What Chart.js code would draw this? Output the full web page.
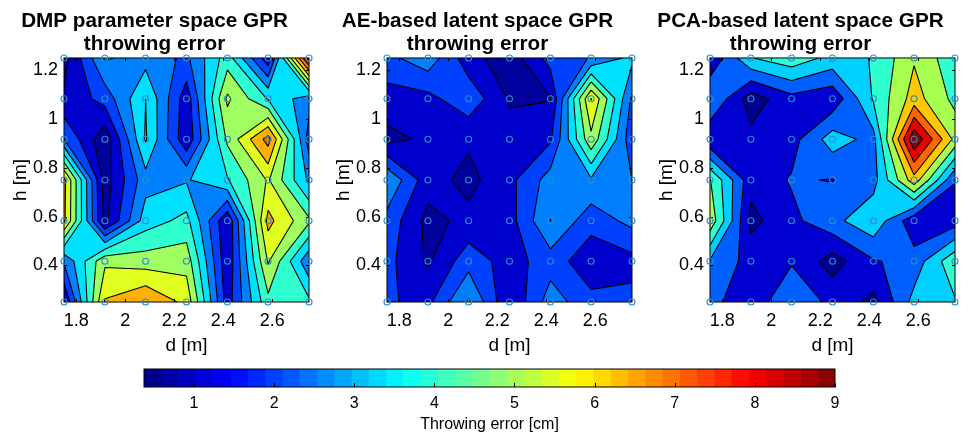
<!DOCTYPE html>
<html><head><meta charset="utf-8">
<script src="https://cdn.jsdelivr.net/npm/chart.js@4"></script>
<style>html,body{margin:0;padding:0;background:#fff;width:969px;height:435px;overflow:hidden}
canvas{position:absolute}</style></head><body>
<canvas id="c1" style="left:0;top:0"></canvas>
<canvas id="c2" style="left:323px;top:0"></canvas>
<canvas id="c3" style="left:646px;top:0"></canvas>
<canvas id="c4" style="left:0;top:365px"></canvas>
<script>
const dValues=[1.75,1.917,2.083,2.25,2.417,2.583,2.75];
const hValues=[1.25,1.083,0.917,0.75,0.583,0.417,0.25];
const xTicks=[1.8,2,2.2,2.4,2.6];
const yTicks=[0.4,0.6,0.8,1,1.2];
const barTicks=[1,2,3,4,5,6,7,8,9];
const titleA=["DMP parameter space GPR","throwing error"];
const titleB=["AE-based latent space GPR","throwing error"];
const titleC=["PCA-based latent space GPR","throwing error"];
const errorsA=[
[.75,3.38,3.0,2.4,4.43,1.3,8.93],
[1.16,2.1,4.05,1.35,5.7,3.98,2.85],
[2.55,.49,4.13,1.2,4.95,7.35,2.18],
[6.53,.68,3.0,3.23,3.98,5.63,3.15],
[6.45,.83,3.68,4.28,1.13,6.53,4.95],
[2.63,5.4,5.18,5.25,1.2,5.63,2.7],
[1.05,6.38,7.05,6.08,1.43,4.58,4.2]];
const errorsB=[
[2.33,3.03,1.35,.6,2.1,2.59,3.5],
[1.46,1.56,2.32,.98,1.01,6.34,2.4],
[.83,1.19,1.16,1.28,1.69,5.36,2.03],
[3.23,1.35,.83,1.58,2.88,3.19,2.55],
[2.29,.83,1.25,1.49,3.32,2.1,2.78],
[2.03,.94,2.25,1.45,2.21,1.28,1.54],
[1.88,1.6,3.41,1.07,2.93,2.03,2.03]];
const errorsC=[
[1.27,3.78,4.41,3.52,3.86,5.49,4.08],
[2.98,.72,1.75,1.4,3.91,5.97,4.44],
[1.27,1.44,1.71,3.38,2.63,8.98,5.32],
[4.75,1.47,2.14,2.02,2.59,6.11,2.1],
[5.32,.92,1.83,2.68,3.59,1.44,1.62],
[2.85,1.71,1.97,.78,1.97,2.41,4.52],
[2.32,1.49,2.81,1.8,.92,3.25,3.73]];
const levelsAB=[1.05,1.8,2.55,3.3,4.05,4.8,5.55,6.3,7.05,7.8,8.55];
const levelsC=[1.18,2.06,2.94,3.82,4.7,5.58,6.46,7.34,8.22];
const colorsAB=['#00009c','#0000cc','#0040ff','#0080ff','#00e0ff','#30ffcf','#a0ff60','#e0ff20','#ffb000','#ff7000','#ff2000','#b00000'];
const colorsC=['#00008f','#0000d0','#0060ff','#00d0ff','#30ffd0','#a8ff50','#ffc800','#ff6600','#e80000','#8b0000'];
const barMin=0.376, barMax=9, barSteps=40;
const FONT='"Liberation Sans",Arial,sans-serif';

function cellPolys(q,L){
  const above=q.map(p=>p[2]>=L);
  const n=above.filter(Boolean).length;
  if(n===0) return {polys:[],segs:[]};
  if(n===4) return {polys:[q.map(p=>[p[0],p[1]])],segs:[]};
  const cross=i=>{const a=q[i],b=q[(i+1)%4];const t=(L-a[2])/(b[2]-a[2]);return [a[0]+t*(b[0]-a[0]),a[1]+t*(b[1]-a[1])];};
  const poly=[],cr=[];
  for(let i=0;i<4;i++){
    if(above[i])poly.push([q[i][0],q[i][1]]);
    if(above[i]!==above[(i+1)%4]){const c=cross(i);poly.push(c);cr[i]=c;}
  }
  if(n===2&&above[0]===above[2]){
    const mean=(q[0][2]+q[1][2]+q[2][2]+q[3][2])/4;
    const pt=i=>[q[i][0],q[i][1]];
    if(mean>=L){
      const segs=above[0]?[[cr[0],cr[1]],[cr[2],cr[3]]]:[[cr[3],cr[0]],[cr[1],cr[2]]];
      return {polys:[poly],segs};
    }
    if(above[0]) return {polys:[[pt(0),cr[0],cr[3]],[pt(2),cr[2],cr[1]]],segs:[[cr[0],cr[3]],[cr[1],cr[2]]]};
    return {polys:[[pt(1),cr[1],cr[0]],[pt(3),cr[3],cr[2]]],segs:[[cr[0],cr[1]],[cr[2],cr[3]]]};
  }
  const cs=cr.filter(Boolean);
  return {polys:[poly],segs:[[cs[0],cs[1]]]};
}
const contourPlugin={id:'contour',
 beforeDatasetsDraw(chart,args,o){
  const {ctx,chartArea:a,scales:{x,y}}=chart;
  ctx.save();
  ctx.beginPath();ctx.rect(a.left,a.top,a.right-a.left,a.bottom-a.top);ctx.clip();
  ctx.fillStyle=o.colors[0];ctx.fillRect(a.left,a.top,a.right-a.left,a.bottom-a.top);
  const allSegs=[];
  o.levels.forEach((L,k)=>{
    ctx.beginPath();
    for(let r=0;r<hValues.length-1;r++)for(let c=0;c<dValues.length-1;c++){
      const P=(rr,cc)=>[x.getPixelForValue(dValues[cc]),y.getPixelForValue(hValues[rr]),o.values[rr][cc]];
      const res=cellPolys([P(r,c),P(r,c+1),P(r+1,c+1),P(r+1,c)],L);
      res.polys.forEach(pl=>{pl.forEach((p,i)=>i?ctx.lineTo(p[0],p[1]):ctx.moveTo(p[0],p[1]));ctx.closePath();});
      res.segs.forEach(s=>allSegs.push(s));
    }
    ctx.fillStyle=o.colors[k+1];ctx.fill();
  });
  ctx.beginPath();
  allSegs.forEach(s=>{ctx.moveTo(s[0][0],s[0][1]);ctx.lineTo(s[1][0],s[1][1]);});
  ctx.strokeStyle='#000';ctx.lineWidth=1.1;ctx.stroke();
  ctx.restore();
  drawFrame(chart);
 }};
function drawFrame(chart){
  const {ctx,chartArea:a,scales:{x,y}}=chart;
  ctx.save();ctx.strokeStyle='#000';ctx.lineWidth=1;
  ctx.beginPath();
  const T=3;
  xTicks.forEach(v=>{const p=Math.round(x.getPixelForValue(v))+.5;
    ctx.moveTo(p,a.bottom);ctx.lineTo(p,a.bottom-T);ctx.moveTo(p,a.top);ctx.lineTo(p,a.top+T);});
  yTicks.forEach(v=>{const p=Math.round(y.getPixelForValue(v))+.5;
    ctx.moveTo(a.left,p);ctx.lineTo(a.left+T,p);ctx.moveTo(a.right,p);ctx.lineTo(a.right-T,p);});
  ctx.stroke();
  ctx.strokeRect(a.left,a.top,a.right-a.left,a.bottom-a.top);
  ctx.restore();
}
function makePanel(id,title,values,levels,colors){
  const pts=[];hValues.forEach(h=>dValues.forEach(d=>pts.push({x:d,y:h})));
  const cv=document.getElementById(id);cv.width=373;cv.height=365;
  new Chart(cv,{type:'scatter',
   data:{datasets:[{data:pts,pointRadius:3,pointBorderColor:'#2b8ccc',pointBackgroundColor:'rgba(0,0,0,0)',pointBorderWidth:1.1,clip:false}]},
   plugins:[contourPlugin],
   options:{responsive:false,animation:false,devicePixelRatio:1,
    layout:{padding:{left:0,right:64,top:0,bottom:0}},
    plugins:{legend:{display:false},tooltip:{enabled:false},
     title:{display:true,text:title,color:'#000',font:{family:FONT,size:20.7,weight:'bold',lineHeight:1.11},padding:{top:10,bottom:2}},
     contour:{values,levels,colors}},
    scales:{
     x:{type:'linear',min:1.75,max:2.75,afterBuildTicks:s=>{s.ticks=xTicks.map(v=>({value:v}));},afterFit:s=>{s.height=63;},
      grid:{display:false,tickLength:0},border:{display:false},
      ticks:{color:'#000',font:{family:FONT,size:18},padding:8,maxRotation:0,autoSkip:false,callback:v=>String(v)},
      title:{display:true,text:'d [m]',color:'#000',font:{family:FONT,size:19},padding:{top:0,bottom:8}}},
     y:{type:'linear',min:0.25,max:1.25,afterBuildTicks:s=>{s.ticks=yTicks.map(v=>({value:v}));},afterFit:s=>{s.width=64;},
      grid:{display:false,tickLength:0},border:{display:false},
      ticks:{color:'#000',font:{family:FONT,size:18},padding:6,autoSkip:false,callback:v=>String(v)},
      title:{display:true,text:'h [m]',color:'#000',font:{family:FONT,size:19},padding:{top:9,bottom:0}}}
    }}});
}
makePanel('c1',titleA,errorsA,levelsAB,colorsAB);
makePanel('c2',titleB,errorsB,levelsAB,colorsAB);
makePanel('c3',titleC,errorsC,levelsC,colorsC);

function jet(t){
  const cl=v=>Math.round(255*Math.max(0,Math.min(1,v)));
  const r=Math.min(4*t-1.5,-4*t+4.5),g=Math.min(4*t-0.5,-4*t+3.5),b=Math.min(4*t+0.5,-4*t+2.5);
  return `rgb(${cl(r)},${cl(g)},${cl(b)})`;
}
const barSets=[];
for(let i=0;i<barSteps;i++){
  const a=barMin+(barMax-barMin)*i/barSteps,b=barMin+(barMax-barMin)*(i+1)/barSteps;
  barSets.push({data:[[a,b]],backgroundColor:jet((i+.5)/barSteps),borderWidth:0,grouped:false,barPercentage:1,categoryPercentage:1});
}
const cb=document.getElementById('c4');cb.width=969;cb.height=70;
new Chart(cb,{type:'bar',data:{labels:['bar'],datasets:barSets},
 plugins:[{id:'cbframe',afterDatasetsDraw(chart){
   const {ctx,chartArea:a,scales:{x}}=chart;
   ctx.save();ctx.strokeStyle='#000';ctx.lineWidth=1;ctx.beginPath();
   barTicks.forEach(v=>{const p=Math.round(x.getPixelForValue(v))+.5;ctx.moveTo(p,a.bottom);ctx.lineTo(p,a.bottom-4);});
   ctx.stroke();ctx.strokeRect(a.left,a.top,a.right-a.left,a.bottom-a.top);ctx.restore();
 }}],
 options:{indexAxis:'y',responsive:false,animation:false,devicePixelRatio:1,
  layout:{padding:{left:144,right:134,top:4,bottom:0}},
  plugins:{legend:{display:false},tooltip:{enabled:false}},
  scales:{y:{display:false,stacked:false},
   x:{type:'linear',min:barMin,max:barMax,afterBuildTicks:s=>{s.ticks=barTicks.map(v=>({value:v}));},afterFit:s=>{s.height=48;},
    grid:{display:false,tickLength:0},border:{display:false},
    ticks:{color:'#000',font:{family:FONT,size:16},padding:7,maxRotation:0,autoSkip:false,callback:v=>String(v)},
    title:{display:true,text:'Throwing error [cm]',color:'#000',font:{family:FONT,size:16},padding:{top:0,bottom:1}}}}}});
</script></body></html>
